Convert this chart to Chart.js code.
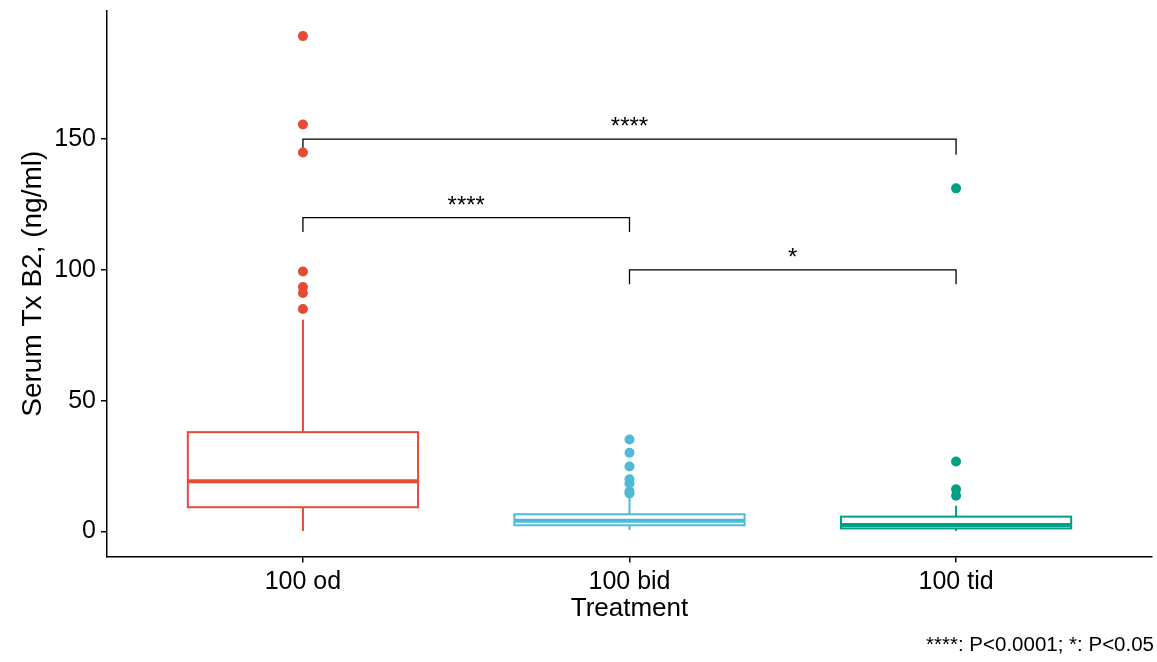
<!DOCTYPE html>
<html>
<head>
<meta charset="utf-8">
<script src="https://cdn.jsdelivr.net/npm/chart.js@4"></script>
<style>
  html, body { margin: 0; padding: 0; background: #fff; }
  #wrap { width: 1157px; height: 662px; }
</style>
</head>
<body>
<div id="wrap"><canvas id="boxChart" width="1157" height="662"></canvas></div>
<script>
// 그룹 / 색상
const groups = ['100 od', '100 bid', '100 tid'];
const colors = ['#E64B35', '#4DBBD5', '#00A087'];

// 박스플롯 요약값
const whiskerLow  = [0.2, 0.6, 0.2];
const q1          = [9.3, 2.4, 1.2];
const median      = [19.2, 4.1, 2.5];
const q3          = [38.0, 6.6, 5.7];
const whiskerHigh = [81.0, 13.0, 9.9];

// 이상치
const outliersOd  = [189.4, 155.6, 144.9, 99.4, 93.5, 91.2, 85.1];
const outliersBid = [35.2, 30.1, 24.9, 20.0, 18.4, 15.3, 14.6];
const outliersTid = [131.2, 26.8, 16.2, 13.7];

// 유의성 표시
const bracketFrom  = [0, 0, 1];
const bracketTo    = [2, 1, 2];
const bracketY     = [150, 120, 100];
const bracketLegY  = [144, 114.5, 94.5];
const bracketLabel = ['****', '****', '*'];

const yTicks = [0, 50, 100, 150];

const FONT = 'Arial, "Liberation Sans", sans-serif';
const BOX_WIDTH = 0.705;

// 박스 + 유의성 괄호 그리기
const boxPlugin = {
    id: 'boxDraw',
    beforeDatasetsDraw(chart) {
        const { ctx, scales: { x, y } } = chart;
        ctx.save();
        groups.forEach((g, i) => {
            const cx = x.getPixelForValue(i);
            const left = x.getPixelForValue(i - BOX_WIDTH / 2);
            const right = x.getPixelForValue(i + BOX_WIDTH / 2);
            ctx.strokeStyle = colors[i];
            ctx.lineWidth = 2;
            // 수염
            ctx.beginPath();
            ctx.moveTo(cx, y.getPixelForValue(whiskerLow[i]));
            ctx.lineTo(cx, y.getPixelForValue(q1[i]));
            ctx.moveTo(cx, y.getPixelForValue(q3[i]));
            ctx.lineTo(cx, y.getPixelForValue(whiskerHigh[i]));
            ctx.stroke();
            // 박스
            const top = y.getPixelForValue(q3[i]);
            const bot = y.getPixelForValue(q1[i]);
            ctx.fillStyle = '#fff';
            ctx.fillRect(left, top, right - left, bot - top);
            ctx.strokeRect(left, top, right - left, bot - top);
            // 중앙값
            ctx.lineWidth = 4;
            ctx.beginPath();
            ctx.moveTo(left, y.getPixelForValue(median[i]));
            ctx.lineTo(right, y.getPixelForValue(median[i]));
            ctx.stroke();
        });

        // 괄호
        ctx.strokeStyle = '#000';
        ctx.lineWidth = 1.3;
        ctx.fillStyle = '#000';
        ctx.font = '24px ' + FONT;
        ctx.textAlign = 'center';
        ctx.textBaseline = 'alphabetic';
        bracketY.forEach((by, k) => {
            const x1 = x.getPixelForValue(bracketFrom[k]);
            const x2 = x.getPixelForValue(bracketTo[k]);
            const yTop = y.getPixelForValue(by);
            const yLeg = y.getPixelForValue(bracketLegY[k]);
            ctx.beginPath();
            ctx.moveTo(x1, yLeg);
            ctx.lineTo(x1, yTop);
            ctx.lineTo(x2, yTop);
            ctx.lineTo(x2, yLeg);
            ctx.stroke();
            ctx.fillText(bracketLabel[k], (x1 + x2) / 2, yTop - 5);
        });
        ctx.restore();
    }
};

const pointSet = (vals, i) => ({
    data: vals.map(v => ({ x: i, y: v })),
    backgroundColor: colors[i],
    borderWidth: 0,
    pointRadius: 5,
    pointHoverRadius: 5
});

const ctx = document.getElementById('boxChart').getContext('2d');
new Chart(ctx, {
    type: 'scatter',
    data: {
        datasets: [
            pointSet(outliersOd, 0),
            pointSet(outliersBid, 1),
            pointSet(outliersTid, 2)
        ]
    },
    plugins: [boxPlugin],
    options: {
        responsive: false,
        animation: false,
        layout: { padding: { left: 4, top: 11, right: 3, bottom: 0 } },
        plugins: {
            legend: { display: false },
            tooltip: { enabled: false },
            title: {
                display: true,
                position: 'bottom',
                align: 'end',
                text: '****: P<0.0001; *: P<0.05',
                color: '#000',
                font: { family: FONT, size: 20.5, weight: 'normal' },
                padding: { top: 3, bottom: 4 }
            }
        },
        scales: {
            x: {
                type: 'linear',
                min: -0.6,
                max: 2.6,
                bounds: 'data',
                afterBuildTicks: s => { s.ticks = groups.map((g, i) => ({ value: i })); },
                afterFit: s => { s.height = 74; s.paddingLeft = 0; s.paddingRight = 0; },
                ticks: {
                    color: '#000',
                    padding: 5,
                    font: { family: FONT, size: 25 },
                    callback: v => groups[v]
                },
                grid: { display: true, drawOnChartArea: false, drawTicks: true, tickLength: 6, color: '#000', lineWidth: 1.5 },
                border: { display: true, color: '#000', width: 1.5 },
                title: {
                    display: true,
                    text: 'Treatment',
                    color: '#000',
                    font: { family: FONT, size: 26 },
                    padding: { top: 0, bottom: 6 }
                }
            },
            y: {
                type: 'linear',
                min: -9.5,
                max: 199,
                bounds: 'data',
                afterBuildTicks: s => { s.ticks = yTicks.map(v => ({ value: v })); },
                afterFit: s => { s.width = 103; s.paddingTop = 0; s.paddingBottom = 0; },
                ticks: {
                    color: '#000',
                    padding: 5,
                    font: { family: FONT, size: 25 }
                },
                grid: { display: true, drawOnChartArea: false, drawTicks: true, tickLength: 6, color: '#000', lineWidth: 1.5 },
                border: { display: true, color: '#000', width: 1.5 },
                title: {
                    display: true,
                    text: 'Serum Tx B2, (ng/ml)',
                    color: '#000',
                    font: { family: FONT, size: 28 },
                    padding: { top: 12, bottom: 0 }
                }
            }
        }
    }
});
</script>
</body>
</html>
